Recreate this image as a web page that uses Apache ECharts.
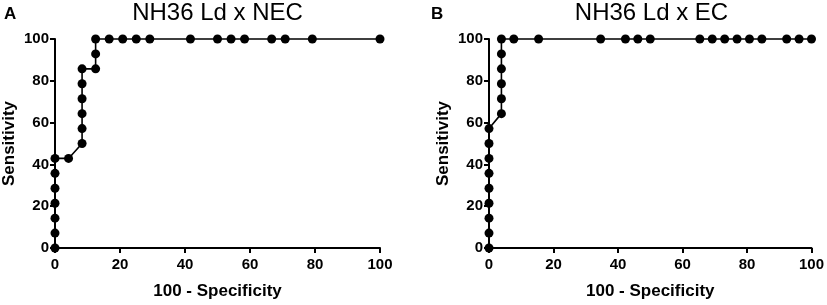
<!DOCTYPE html>
<html>
<head>
<meta charset="utf-8">
<script src="https://cdn.jsdelivr.net/npm/echarts@6/dist/echarts.min.js"></script>
<style>
  html, body { margin: 0; padding: 0; background: #fff; }
  #chart { width: 827px; height: 305px; }
</style>
</head>
<body>
<div id="chart"></div>
<script>
// panel A: NH36 Ld x NEC
const specA = [0, 0, 0, 0, 0, 0, 0, 4.17, 8.33, 8.33, 8.33, 8.33, 8.33, 8.33, 12.5, 12.5, 12.5,
  16.67, 20.83, 25, 29.17, 41.67, 50, 54.17, 58.33, 66.67, 70.83, 79.17, 100];
const sensA = [0, 7.14, 14.29, 21.43, 28.57, 35.71, 42.86, 42.86, 50, 57.14, 64.29, 71.43, 78.57, 85.71, 85.71, 92.86, 100,
  100, 100, 100, 100, 100, 100, 100, 100, 100, 100, 100, 100];
// panel B: NH36 Ld x EC
const specB = [0, 0, 0, 0, 0, 0, 0, 0, 0, 3.85, 3.85, 3.85, 3.85, 3.85, 3.85,
  7.69, 15.38, 34.62, 42.31, 46.15, 50, 65.38, 69.23, 73.08, 76.92, 80.77, 84.62, 92.31, 96.15, 100];
const sensB = [0, 7.14, 14.29, 21.43, 28.57, 35.71, 42.86, 50, 57.14, 64.29, 71.43, 78.57, 85.71, 92.86, 100,
  100, 100, 100, 100, 100, 100, 100, 100, 100, 100, 100, 100, 100, 100, 100];
const titles = ["NH36 Ld x NEC", "NH36 Ld x EC"];
const panelLetters = ["A", "B"];

const font = "'Liberation Sans', Arial, Helvetica, sans-serif";
const zip = (xs, ys) => xs.map((x, i) => [x, ys[i]]);

const grids = [
  { left: 55, top: 39, width: 325, height: 213 },
  { left: 489, top: 39, width: 325, height: 213 }
];

const axisCommon = {
  type: "value",
  min: 0,
  max: 100,
  interval: 20,
  splitLine: { show: false },
  axisLine: { show: true, onZero: false, lineStyle: { color: "#000", width: 2 } },
  axisTick: { show: true, length: 5, lineStyle: { color: "#000", width: 2 } },
  axisLabel: { color: "#000", fontSize: 15, fontWeight: "bold", fontFamily: font },
  nameLocation: "middle",
  nameTextStyle: { color: "#000", fontSize: 17, fontWeight: "bold", fontFamily: font }
};

const xAxes = [0, 1].map(i => Object.assign({}, axisCommon, {
  gridIndex: i, name: "100 - Specificity", nameGap: 35,
  axisLabel: Object.assign({}, axisCommon.axisLabel, { margin: 9 })
}));
const yAxes = [0, 1].map(i => Object.assign({}, axisCommon, {
  gridIndex: i, name: "Sensitivity", nameGap: 37,
  axisLabel: Object.assign({}, axisCommon.axisLabel, { margin: 6 })
}));

const seriesData = [zip(specA, sensA), zip(specB, sensB)];
const series = seriesData.map((d, i) => ({
  type: "line",
  xAxisIndex: i,
  yAxisIndex: i,
  data: d,
  symbol: "circle",
  symbolSize: 9,
  clip: false,
  itemStyle: { color: "#000" },
  lineStyle: { color: "#000", width: 1.6 },
  animation: false
}));

const graphics = [];
grids.forEach((g, i) => {
  graphics.push({
    type: "text", left: i === 0 ? 4 : 431, top: 6,
    style: { text: panelLetters[i], fill: "#000", font: "bold 17px " + font }
  });
  graphics.push({
    type: "text", x: g.left + g.width / 2, y: 13,
    style: { text: titles[i], fill: "#000", font: "24px " + font, textAlign: "center", textVerticalAlign: "middle" }
  });
});

const chart = echarts.init(document.getElementById("chart"));
chart.setOption({
  animation: false,
  grid: grids,
  xAxis: xAxes,
  yAxis: yAxes,
  series: series,
  graphic: graphics
});
</script>
</body>
</html>
